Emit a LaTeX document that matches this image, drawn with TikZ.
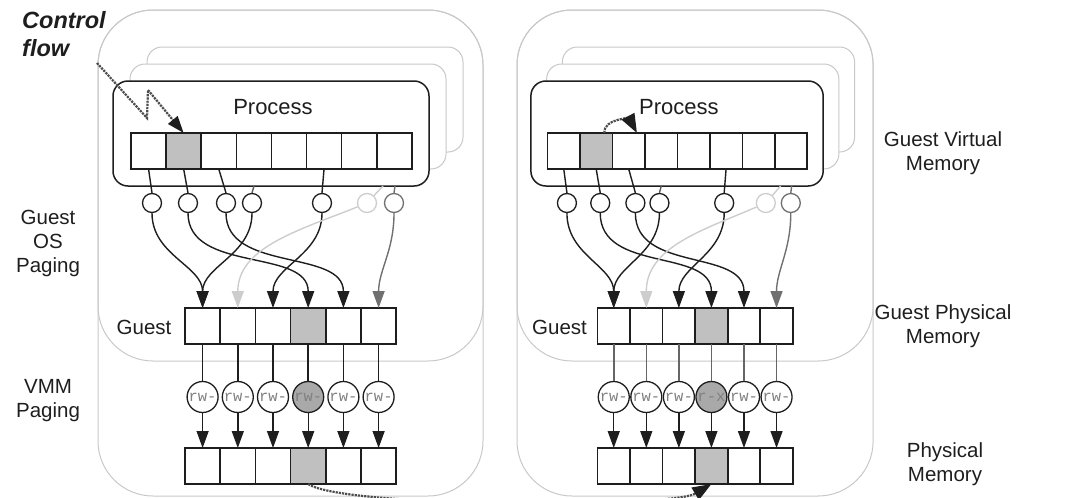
\documentclass[tikz,border=0pt]{standalone}
\usepackage{fontspec}
\setmainfont{Liberation Sans}
\setmonofont{Liberation Mono}
\usetikzlibrary{arrows.meta}

\definecolor{ink}{HTML}{1E1E1E}
\definecolor{hotcell}{HTML}{C0C0C0}
\definecolor{hotept}{HTML}{A9A9A9}
\definecolor{framegray}{HTML}{C8C8C8}
\definecolor{fadedmap}{HTML}{CDCDCD}
\definecolor{midmap}{HTML}{707070}

% One VM: process stack, guest page table, guest frames, EPT entries, host frames.
% #1 name prefix, #2 process cell width, #3 guest cell width,
% #4 permissions of the highlighted EPT entry, #5 colour of guest-frame-to-EPT lines
\newcommand\vmpanel[5]{%
  \draw[frame] (98,-10) rectangle (483,-496);
  \draw[frame] (98,-10) rectangle (483,-361);
  \draw[procback] (147,-47) rectangle (463,-152);
  \draw[procback] (130,-64) rectangle (446,-169);
  \draw[procfront] (113,-81) rectangle (429,-186);
  \node[lbl, font=\fontsize{22}{26}\selectfont] (#1proc) at (273,-107) {Process};
  % guest virtual pages
  \foreach \i/\f in {0/white,1/hotcell,2/white,3/white,4/white,5/white,6/white,7/white}
    \node[cell, fill=\f, minimum width=#2] (#1p\i) at ({148.55+35.1*\i},-151) {};
  % guest page-table entries
  \foreach \n/\x in {1/152,2/188,3/226,4/252,5/322}
    \node[pte] (#1c\n) at (\x,-203) {};
  \node[pte, draw=fadedmap] (#1c6) at (367,-203) {};
  \node[pte, draw=midmap] (#1c7) at (394,-203) {};
  \coordinate (#1t4) at (254,-186);
  \coordinate (#1t6) at (383,-186);
  \coordinate (#1t7) at (395,-186);
  \draw[map] (#1p0.south) -- (#1c1.north);
  \draw[map] (#1p1.south) -- (#1c2.north);
  \draw[map] (#1p2.south) -- (#1c3.north);
  \draw[map, draw=black!65] (#1t4) -- (#1c4.north);
  \draw[map] (#1p5.south) -- (#1c5.north);
  \draw[map, draw=fadedmap] (#1t6) -- (#1c6);
  \draw[map, draw=midmap] (#1t7) -- (#1c7.north);
  % guest physical frames
  \node[lbl] (#1glbl) at (144,-327) {Guest};
  \foreach \i/\f in {0/white,1/white,2/white,3/hotcell,4/white,5/white}
    \node[cell, fill=\f, minimum width=#3] (#1g\i) at ({202.6+35.2*\i},-326) {};
  \draw[arr] (#1c1.south) to[out=-90,in=90] (#1g0.north);
  \draw[arr] (#1c4.south) to[out=-90,in=90] (#1g0.north);
  \draw[arr] (#1c2.south) to[out=-90,in=90] (#1g3.north);
  \draw[arr] (#1c3.south) to[out=-90,in=90] (#1g4.north);
  \draw[arr] (#1c5.south) to[out=-90,in=90] (#1g2.north);
  \draw[arr, draw=fadedmap] (#1c6) to[out=-158,in=90] (#1g1.north);
  \draw[arr, draw=midmap] (#1c7.south) to[out=-90,in=90] (#1g5.north);
  % EPT entries and host physical frames
  \foreach \i/\f/\t in {0/white/rw-,1/white/rw-,2/white/rw-,3/hotept/#4,4/white/rw-,5/white/rw-}{
    \node[ept, fill=\f] (#1e\i) at ({202.6+35.2*\i},-397) {\t};
    \node[cell, fill=\f, minimum width=#3] (#1h\i) at ({202.6+35.2*\i},-466) {};
    \draw[map, line width=1.5pt, draw=#5] (#1g\i.south) -- (#1e\i.north);
    \draw[arr] (#1e\i.south) -- (#1h\i.north);
  }
  \node[cell, fill=hotcell, minimum width=#3] at (#1h3) {};
}

\begin{document}
\begin{tikzpicture}[x=1pt,y=1pt,
  frame/.style={draw=framegray, line width=1pt, rounded corners=55pt},
  procback/.style={draw=framegray, fill=white, line width=1pt, rounded corners=15pt},
  procfront/.style={draw=ink, fill=white, line width=1.5pt, rounded corners=15pt},
  cell/.style={draw=ink, line width=1.6pt, minimum height=36pt, inner sep=0pt, outer sep=0pt},
  pte/.style={circle, draw=ink, line width=1.3pt, fill=white, minimum size=19pt, inner sep=0pt},
  ept/.style={circle, draw=ink, line width=1.3pt, minimum size=31pt, inner sep=0pt,
    font=\ttfamily\fontsize{15.5}{15.5}\selectfont, text=black!50},
  map/.style={draw=ink, line width=1.4pt},
  arr/.style={map, -{Triangle[length=17pt,width=12pt]}},
  lbl/.style={font=\fontsize{20.5}{24}\selectfont, align=center, text=ink},
  flow/.style={draw=black!70, line width=2.2pt, densely dotted},
  flowtip/.style={-{Triangle[length=17pt,width=12pt,color=ink]}},
  bigtip/.style={-{Triangle[length=19pt,width=14pt,color=ink]}}
]
\useasboundingbox (0,0) rectangle (1066,-498);
\clip (0,0) rectangle (1066,-498);

\begin{scope}
  \vmpanel{L}{35.1pt}{35.2pt}{rw-}{ink}
\end{scope}
\begin{scope}[xshift=426.35pt, xscale=0.925]
  \vmpanel{R}{32.47pt}{32.56pt}{r-x}{black!60}
\end{scope}

% side labels
\node[lbl] (osp) at (48,-243) {Guest\\OS\\Paging};
\node[lbl] (vmmp) at (48,-401) {VMM\\Paging};
\node[lbl] (gvm) at (943,-153) {Guest Virtual\\Memory};
\node[lbl] (gpm) at (943,-326) {Guest Physical\\Memory};
\node[lbl] (hpm) at (945,-464) {Physical\\Memory};

% control flow
\node[anchor=north west, inner sep=0pt, align=left, text=ink,
  font=\fontsize{23.5}{28}\selectfont\bfseries\itshape] (cf) at (22,-11) {Control\\flow};
\coordinate (cfs) at (97,-63);
\coordinate (z1) at (147,-118);
\coordinate (z2) at (148,-90);
\draw[flow, flowtip] (cfs) -- (z1) -- (z2) -- (Lp1.north);
\draw[flow, bigtip] ([xshift=8pt]Rp1.north) to[out=90,in=118,looseness=1.2] ([xshift=-8pt]Rp2.north east);
\draw[flow, bigtip] (Lh3.south) .. controls +(35,-24) and +(-40,-24) .. (Rh3.south);
\end{tikzpicture}
\end{document}
